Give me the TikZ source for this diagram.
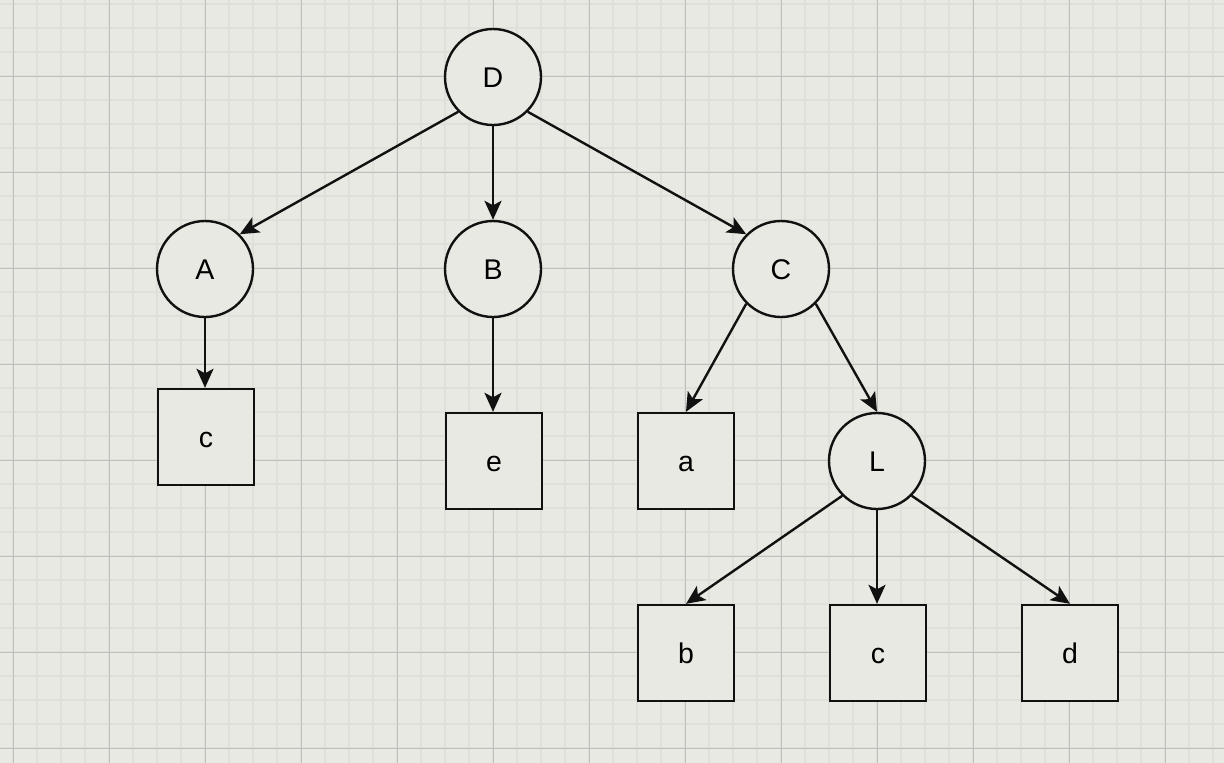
\documentclass[tikz,border=0pt]{standalone}
\usepackage{fontspec}
\setmainfont{Liberation Sans}
\usetikzlibrary{arrows.meta}
\definecolor{bg}{RGB}{232,233,226}
\definecolor{minorline}{RGB}{222,224,217}
\definecolor{majorline}{RGB}{190,192,187}
\definecolor{ink}{RGB}{17,17,17}
\tikzset{
  lbl/.style={font=\fontsize{28.5}{33}\selectfont,text=black,text height=20.4pt,text depth=0pt},
  circ/.style={circle,draw=ink,fill=bg,line width=2.4pt,minimum size=96pt,inner sep=0pt,lbl},
  sq/.style={rectangle,draw=ink,fill=bg,line width=2.4pt,minimum size=96pt,inner sep=0pt,lbl},
  edge/.style={draw=ink,line width=2.4pt,-{Stealth[length=19pt,width=17pt,inset=4.5pt]}}
}
\begin{document}
\begin{tikzpicture}[x=1pt,y=-1pt]
\fill[bg] (0,0) rectangle (1224,763);
\useasboundingbox (0,0) rectangle (1224,763);
% minor grid
\foreach \i in {0,...,51} {
  \draw[minorline,line width=2pt] ({13+24*(\i-1)},0) -- ({13+24*(\i-1)},763);
}
\foreach \j in {0,...,32} {
  \draw[minorline,line width=2pt] (0,{4+24*\j}) -- (1224,{4+24*\j});
}
% major grid
\foreach \i in {0,...,12} {
  \draw[majorline,line width=1pt] ({13+96*\i},0) -- ({13+96*\i},763);
}
\foreach \j in {-1,...,7} {
  \draw[majorline,line width=1pt] (0,{76+96*\j}) -- (1224,{76+96*\j});
}
% nodes
\node[circ] (D) at (493,77) {D};
\node[circ] (A) at (205,269) {A};
\node[circ] (B) at (493,269) {B};
\node[circ] (C) at (781,269) {C};
\node[circ] (L) at (877,461) {L};
\node[sq] (c1) at (206,437) {c};
\node[sq] (e) at (494,461) {e};
\node[sq] (a) at (686,461) {a};
\node[sq] (b) at (686,653) {b};
\node[sq] (c2) at (878,653) {c};
\node[sq] (d) at (1070,653) {d};
% edges
\draw[edge] (D.south west) -- (A.north east);
\draw[edge] (D.south) -- (B.north);
\draw[edge] (D.south east) -- (C.north west);
\draw[edge] (A.south) -- (A.south |- c1.north);
\draw[edge] (B.south) -- (B.south |- e.north);
\draw[edge] (C.south west) -- (a.north);
\draw[edge] (C.south east) -- (L.north);
\draw[edge] (L.south west) -- (b.north);
\draw[edge] (L.south) -- (L.south |- c2.north);
\draw[edge] (L.south east) -- (d.north);
\end{tikzpicture}
\end{document}
